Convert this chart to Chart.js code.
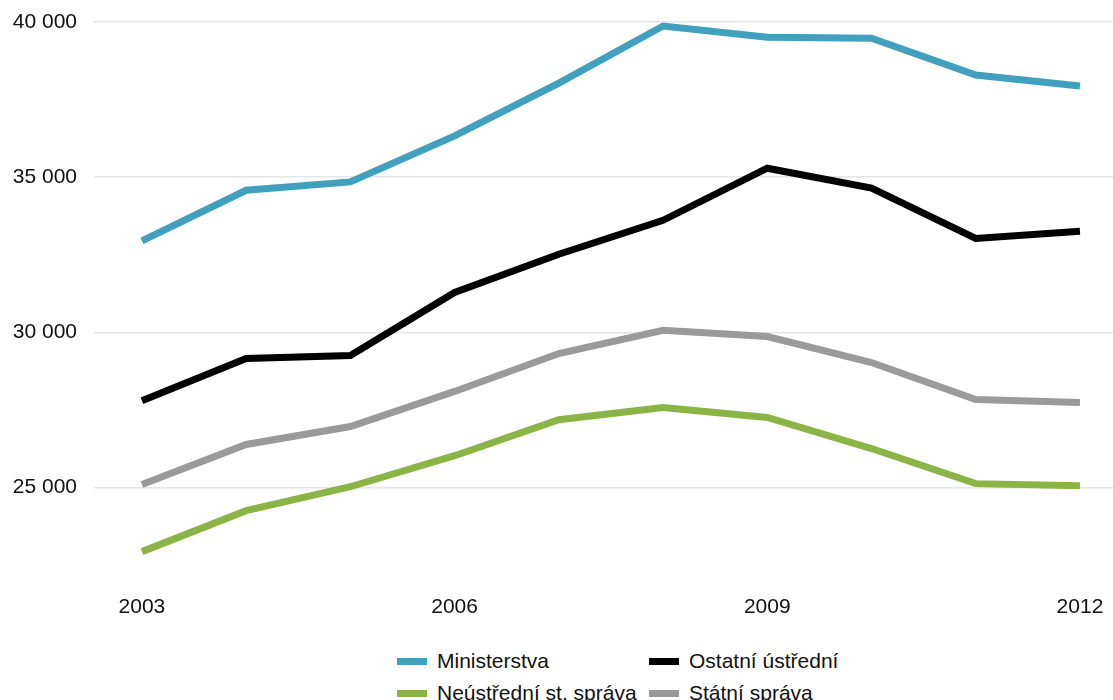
<!DOCTYPE html>
<html>
<head>
<meta charset="utf-8">
<script src="https://cdn.jsdelivr.net/npm/chart.js@4"></script>
<style>
  body { margin: 0; background: #fff; font-family: "Liberation Sans", Arial, sans-serif; }
  #wrap { position: relative; width: 1113px; height: 700px; }
  #legend { position: absolute; left: 397px; top: 649px; width: 420px; }
  .item { position: absolute; display: flex; align-items: center; font-size: 21px; color: #111; white-space: nowrap; }
  .item span.sw { display: inline-block; width: 30px; height: 7px; margin-right: 10px; }
</style>
</head>
<body>
<div id="wrap">
  <canvas id="lineChart" width="1113" height="640"></canvas>
  <div id="legend"></div>
</div>
<script>
var years = [2003, 2004, 2005, 2006, 2007, 2008, 2009, 2010, 2011, 2012];
var seriesNames = ["Ministerstva", "Ostatní ústřední", "Neústřední st. správa", "Státní správa"];
var ministerstva = [32950, 34580, 34850, 36330, 38030, 39870, 39510, 39480, 38290, 37940];
var ostatniUstredni = [27800, 29160, 29260, 31290, 32520, 33610, 35290, 34650, 33030, 33260];
var statniSprava = [25100, 26390, 26970, 28100, 29320, 30070, 29870, 29030, 27840, 27740];
var neustredni = [22940, 24260, 25030, 26030, 27190, 27580, 27260, 26260, 25130, 25060];
var xTicks = [2003, 2006, 2009, 2012];
var yTicks = [25000, 30000, 35000, 40000];

var colors = ["#41a0bd", "#000000", "#8bb446", "#9a9a9a"];

function pts(arr) {
  return arr.map(function (v, i) { return { x: years[i], y: v }; });
}

var lineData = {
  datasets: [
    { label: seriesNames[0], data: pts(ministerstva), borderColor: colors[0] },
    { label: seriesNames[1], data: pts(ostatniUstredni), borderColor: colors[1] },
    { label: seriesNames[2], data: pts(neustredni), borderColor: colors[2] },
    { label: seriesNames[3], data: pts(statniSprava), borderColor: colors[3] }
  ]
};
lineData.datasets.forEach(function (d) {
  d.borderWidth = 7;
  d.pointRadius = 0;
  d.tension = 0;
  d.fill = false;
});

var font = { family: "'Liberation Sans', Arial, sans-serif", size: 21 };

var lineOptions = {
  responsive: false,
  animation: false,
  layout: { padding: { left: 0, right: 0, top: 22, bottom: 14 } },
  plugins: { legend: { display: false }, tooltip: { enabled: false } },
  scales: {
    x: {
      type: 'linear',
      min: 2002.54,
      max: 2012.317,
      grid: { display: false },
      border: { display: false },
      afterBuildTicks: function (axis) {
        axis.ticks = xTicks.map(function (v) { return { value: v }; });
      },
      ticks: {
        color: '#111',
        font: font,
        padding: 6,
        maxRotation: 0,
        callback: function (v) { return String(v); }
      }
    },
    y: {
      min: 22000,
      max: 40000,
      border: { display: false },
      grid: { color: '#e6e6e6', lineWidth: 1.5, drawTicks: false },
      afterBuildTicks: function (axis) {
        axis.ticks = yTicks.map(function (v) { return { value: v }; });
      },
      afterFit: function (axis) {
        axis.width = 94;
        axis.paddingTop = 0;
        axis.paddingBottom = 0;
      },
      ticks: {
        color: '#111',
        font: font,
        padding: 17,
        callback: function (v) {
          return String(v).replace(/\B(?=(\d{3})+(?!\d))/g, ' ');
        }
      }
    }
  }
};

var ctx = document.getElementById("lineChart").getContext("2d");
new Chart(ctx, { type: 'line', data: lineData, options: lineOptions });

// legend: two columns, two rows
var legend = document.getElementById('legend');
var spots = [[0, 0], [252, 0], [0, 32], [252, 32]];
lineData.datasets.forEach(function (d, i) {
  var el = document.createElement('div');
  el.className = 'item';
  el.style.left = spots[i][0] + 'px';
  el.style.top = spots[i][1] + 'px';
  el.innerHTML = '<span class="sw" style="background:' + d.borderColor + '"></span>' + d.label;
  legend.appendChild(el);
});
</script>
</body>
</html>
